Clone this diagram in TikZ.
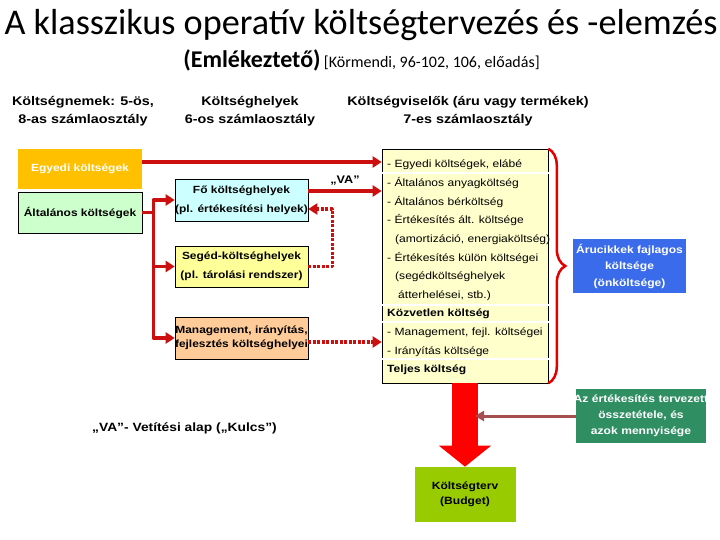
\documentclass[tikz,border=0pt]{standalone}
\usepackage{fontspec}
\setmainfont{Liberation Sans}[FakeStretch=1.15]
\newfontfamily\titlefont{Carlito}
\usetikzlibrary{arrows.meta, calc, decorations.pathreplacing}
\definecolor{vred}{HTML}{CC1010}
\definecolor{cegyedi}{HTML}{FFC000}
\definecolor{calt}{HTML}{CCFFCC}
\definecolor{cfo}{HTML}{CCFFFF}
\definecolor{cseged}{HTML}{FFFF99}
\definecolor{cmgmt}{HTML}{FFCC99}
\definecolor{cvis}{HTML}{FFFFCC}
\definecolor{caru}{HTML}{3A6BEA}
\definecolor{certek}{HTML}{2F8F63}
\definecolor{cbud}{HTML}{99CC00}
\definecolor{cbrown}{HTML}{A5504F}

\begin{document}
\begin{tikzpicture}[x=1pt, y=-1pt,
  box/.style={draw=black, line width=0.6pt, align=center, font=\bfseries\fontsize{10.4}{19}\selectfont},
  head/.style={align=center, font=\bfseries\fontsize{12.5}{17.5}\selectfont},
  redline/.style={draw=vred, line width=3.5pt, line join=round},
  redarrow/.style={redline, -{Triangle[length=9pt,width=11pt]}},
  dotarrow/.style={redarrow, dash pattern=on 3pt off 1.5pt},
  bigarrow/.style={draw=red, line width=26pt, -{Triangle[length=21pt,width=51pt]}},
  brownarrow/.style={draw=cbrown, line width=3pt, -{Triangle[length=9pt,width=10pt]}},
  redbrace/.style={draw=red!90!black, line width=2.5pt, decorate, decoration={brace, amplitude=17pt}}]
\tikzstyle{every node}+=[inner sep=0pt]
\useasboundingbox (0,0) rectangle (720,540);
\node[anchor=base, font=\titlefont\fontsize{36.2}{40}\selectfont] (title) at (361,35) {A klasszikus operatív költségtervezés és -elemzés};
\node[anchor=base] (sub) at (361.5,68) {{\titlefont\bfseries\fontsize{24}{28}\selectfont(Emlékeztető)} {\titlefont\fontsize{16}{18}\selectfont[Körmendi, 96-102, 106, előadás]}};
\node[head] (hnemek) at (83,111) {Költségnemek: 5-ös,\\8-as számlaosztály};
\node[head] (hhelyek) at (250,111) {Költséghelyek\\6-os számlaosztály};
\node[head] (hviselo) at (468,111) {Költségviselők (áru vagy termékek)\\7-es számlaosztály};
\node[box, draw=none, fill=cegyedi, text=white, minimum width=124pt, minimum height=40pt] (egyedi) at (80,169) {Egyedi költségek};
\node[box, fill=calt, minimum width=124pt, minimum height=41pt] (altalanos) at (80,212.5) {Általános költségek};
\node[box, fill=cfo, minimum width=133pt, minimum height=42pt] (fo) at (241.5,200) {Fő költséghelyek\\(pl. értékesítési helyek)};
\node[box, fill=cseged, minimum width=133pt, minimum height=41pt] (seged) at (241.5,266.5) {Segéd-költséghelyek\\(pl. tárolási rendszer)};
\node[box, fill=cmgmt, minimum width=133pt, minimum height=42pt, font=\bfseries\fontsize{10.4}{14.5}\selectfont] (mgmt) at (241.5,338) {Management, irányítás,\\fejlesztés költséghelyei};
\node[draw=black, line width=0.6pt, fill=cvis, minimum width=166pt, minimum height=234pt] (viselo) at (465,266) {};
\foreach \y in {173,305,322,359}
  \draw[white, line width=1.2pt] ([xshift=-1pt]viselo.west |- 0,\y) -- ([xshift=1pt]viselo.east |- 0,\y);
\foreach \txt [count=\i] in {{- Egyedi költségek, elábé}, {- Általános anyagköltség}, {- Általános bérköltség},
  {- Értékesítés ált. költsége}, {\hspace*{8pt}(amortizáció, energiaköltség)}, {- Értékesítés külön költségei},
  {\hspace*{8pt}(segédköltséghelyek}, {\hspace*{11pt}átterhelései, stb.)}, {\bfseries Közvetlen költség},
  {- Management, fejl. költségei}, {- Irányítás költsége}, {\bfseries Teljes költség}}
  \node[anchor=base west, font=\fontsize{10.5}{12}\selectfont] (row\i) at (387,168+18.6*\i-18.6) {\txt};
\node[box, draw=none, fill=caru, text=white, minimum width=113pt, minimum height=54pt, font=\bfseries\fontsize{10.5}{16.5}\selectfont] (aru) at (629.5,266) {Árucikkek fajlagos\\költsége\\(önköltsége)};
\node[box, draw=none, fill=certek, text=white, text width=130pt, minimum height=54pt, font=\bfseries\fontsize{10.5}{16}\selectfont] (ertek) at (641,416) {\makebox[130pt]{Az értékesítés tervezett}\\összetétele, és\\azok mennyisége};
\node[box, draw=none, fill=cbud, minimum width=101pt, minimum height=55pt, font=\bfseries\fontsize{10.5}{15}\selectfont] (budget) at (465,494.5) {Költségterv\\(Budget)};
\node[anchor=base west, font=\bfseries\fontsize{12}{14}\selectfont] (vanote) at (92,431) {„VA”- Vetítési alap („Kulcs”)};
\draw[redarrow] ([yshift=7pt]egyedi.east) -- ([yshift=7pt]egyedi.east -| viselo.west);
\draw[redarrow] ([yshift=9pt]fo.east) -- ([yshift=9pt]fo.east -| viselo.west) node[midway, above=4pt, font=\bfseries\fontsize{11}{13}\selectfont] (va) {„VA”};
\draw[redline] (altalanos.east) -- ++(11,0) coordinate (bus);
\draw[redarrow] (bus) |- (fo.west);
\draw[redarrow] (bus) |- (seged.west);
\draw[redarrow] (bus) |- (mgmt.west);
\draw[dotarrow] (seged.east) -- ++(24,0) |- ([yshift=-9pt]fo.east);
\draw[dotarrow] ([yshift=-4pt]mgmt.east) -- ([yshift=-4pt]mgmt.east -| viselo.west);
\draw[redbrace] (viselo.north east) -- (viselo.south east);
\draw[bigarrow] (viselo.south) -- (budget.north);
\draw[brownarrow] (ertek.west) -- ([xshift=10pt]ertek.west -| viselo.south);
\end{tikzpicture}
\end{document}
